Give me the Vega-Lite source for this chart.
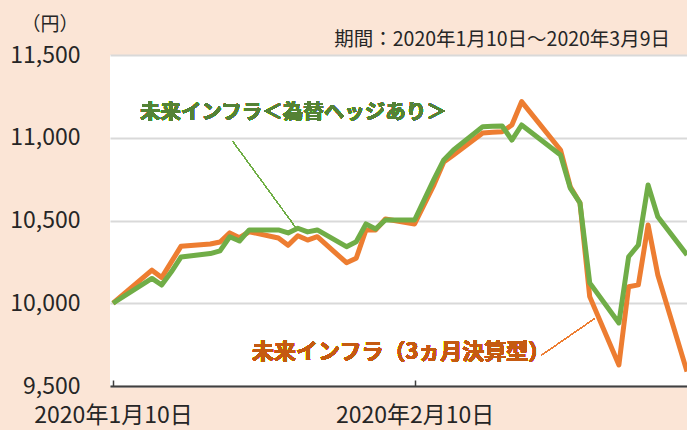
{
  "$schema": "https://vega.github.io/schema/vega-lite/v6.json",
  "width": 577,
  "height": 331,
  "autosize": {"type": "none"},
  "padding": {"left": 110, "top": 55, "right": 0, "bottom": 44},
  "background": "#FBE5D6",
  "config": {
    "view": {"fill": "white", "stroke": null},
    "font": "Noto Sans CJK JP"
  },
  "title": {
    "text": "期間：2020年1月10日～2020年3月9日",
    "anchor": "end",
    "frame": "group",
    "fontSize": 19.5,
    "fontWeight": "normal",
    "color": "#262626",
    "baseline": "alphabetic",
    "offset": 8,
    "dx": -17,
    "dy": 58
  },
  "data": {
    "values": [
      {"date": "2020-01-10", "fund": "未来インフラ＜為替ヘッジあり＞", "price": 10000},
      {"date": "2020-01-14", "fund": "未来インフラ＜為替ヘッジあり＞", "price": 10150},
      {"date": "2020-01-15", "fund": "未来インフラ＜為替ヘッジあり＞", "price": 10110},
      {"date": "2020-01-16", "fund": "未来インフラ＜為替ヘッジあり＞", "price": 10190},
      {"date": "2020-01-17", "fund": "未来インフラ＜為替ヘッジあり＞", "price": 10280},
      {"date": "2020-01-20", "fund": "未来インフラ＜為替ヘッジあり＞", "price": 10300},
      {"date": "2020-01-21", "fund": "未来インフラ＜為替ヘッジあり＞", "price": 10316},
      {"date": "2020-01-22", "fund": "未来インフラ＜為替ヘッジあり＞", "price": 10402},
      {"date": "2020-01-23", "fund": "未来インフラ＜為替ヘッジあり＞", "price": 10376},
      {"date": "2020-01-24", "fund": "未来インフラ＜為替ヘッジあり＞", "price": 10443},
      {"date": "2020-01-27", "fund": "未来インフラ＜為替ヘッジあり＞", "price": 10443},
      {"date": "2020-01-28", "fund": "未来インフラ＜為替ヘッジあり＞", "price": 10425},
      {"date": "2020-01-29", "fund": "未来インフラ＜為替ヘッジあり＞", "price": 10453},
      {"date": "2020-01-30", "fund": "未来インフラ＜為替ヘッジあり＞", "price": 10431},
      {"date": "2020-01-31", "fund": "未来インフラ＜為替ヘッジあり＞", "price": 10443},
      {"date": "2020-02-03", "fund": "未来インフラ＜為替ヘッジあり＞", "price": 10342},
      {"date": "2020-02-04", "fund": "未来インフラ＜為替ヘッジあり＞", "price": 10372},
      {"date": "2020-02-05", "fund": "未来インフラ＜為替ヘッジあり＞", "price": 10479},
      {"date": "2020-02-06", "fund": "未来インフラ＜為替ヘッジあり＞", "price": 10449},
      {"date": "2020-02-07", "fund": "未来インフラ＜為替ヘッジあり＞", "price": 10503},
      {"date": "2020-02-10", "fund": "未来インフラ＜為替ヘッジあり＞", "price": 10503},
      {"date": "2020-02-12", "fund": "未来インフラ＜為替ヘッジあり＞", "price": 10750},
      {"date": "2020-02-13", "fund": "未来インフラ＜為替ヘッジあり＞", "price": 10866},
      {"date": "2020-02-14", "fund": "未来インフラ＜為替ヘッジあり＞", "price": 10926},
      {"date": "2020-02-17", "fund": "未来インフラ＜為替ヘッジあり＞", "price": 11067},
      {"date": "2020-02-18", "fund": "未来インフラ＜為替ヘッジあり＞", "price": 11069},
      {"date": "2020-02-19", "fund": "未来インフラ＜為替ヘッジあり＞", "price": 11071},
      {"date": "2020-02-20", "fund": "未来インフラ＜為替ヘッジあり＞", "price": 10986},
      {"date": "2020-02-21", "fund": "未来インフラ＜為替ヘッジあり＞", "price": 11077},
      {"date": "2020-02-25", "fund": "未来インフラ＜為替ヘッジあり＞", "price": 10896},
      {"date": "2020-02-26", "fund": "未来インフラ＜為替ヘッジあり＞", "price": 10696},
      {"date": "2020-02-27", "fund": "未来インフラ＜為替ヘッジあり＞", "price": 10606},
      {"date": "2020-02-28", "fund": "未来インフラ＜為替ヘッジあり＞", "price": 10123},
      {"date": "2020-03-02", "fund": "未来インフラ＜為替ヘッジあり＞", "price": 9881},
      {"date": "2020-03-03", "fund": "未来インフラ＜為替ヘッジあり＞", "price": 10281},
      {"date": "2020-03-04", "fund": "未来インフラ＜為替ヘッジあり＞", "price": 10352},
      {"date": "2020-03-05", "fund": "未来インフラ＜為替ヘッジあり＞", "price": 10715},
      {"date": "2020-03-06", "fund": "未来インフラ＜為替ヘッジあり＞", "price": 10523},
      {"date": "2020-03-09", "fund": "未来インフラ＜為替ヘッジあり＞", "price": 10292},
      {"date": "2020-01-10", "fund": "未来インフラ（3ヵ月決算型）", "price": 10000},
      {"date": "2020-01-14", "fund": "未来インフラ（3ヵ月決算型）", "price": 10200},
      {"date": "2020-01-15", "fund": "未来インフラ（3ヵ月決算型）", "price": 10155},
      {"date": "2020-01-16", "fund": "未来インフラ（3ヵ月決算型）", "price": 10250},
      {"date": "2020-01-17", "fund": "未来インフラ（3ヵ月決算型）", "price": 10345},
      {"date": "2020-01-20", "fund": "未来インフラ（3ヵ月決算型）", "price": 10358},
      {"date": "2020-01-21", "fund": "未来インフラ（3ヵ月決算型）", "price": 10370},
      {"date": "2020-01-22", "fund": "未来インフラ（3ヵ月決算型）", "price": 10425},
      {"date": "2020-01-23", "fund": "未来インフラ（3ヵ月決算型）", "price": 10396},
      {"date": "2020-01-24", "fund": "未来インフラ（3ヵ月決算型）", "price": 10432},
      {"date": "2020-01-27", "fund": "未来インフラ（3ヵ月決算型）", "price": 10394},
      {"date": "2020-01-28", "fund": "未来インフラ（3ヵ月決算型）", "price": 10350},
      {"date": "2020-01-29", "fund": "未来インフラ（3ヵ月決算型）", "price": 10408},
      {"date": "2020-01-30", "fund": "未来インフラ（3ヵ月決算型）", "price": 10382},
      {"date": "2020-01-31", "fund": "未来インフラ（3ヵ月決算型）", "price": 10402},
      {"date": "2020-02-03", "fund": "未来インフラ（3ヵ月決算型）", "price": 10245},
      {"date": "2020-02-04", "fund": "未来インフラ（3ヵ月決算型）", "price": 10272},
      {"date": "2020-02-05", "fund": "未来インフラ（3ヵ月決算型）", "price": 10443},
      {"date": "2020-02-06", "fund": "未来インフラ（3ヵ月決算型）", "price": 10443},
      {"date": "2020-02-07", "fund": "未来インフラ（3ヵ月決算型）", "price": 10509},
      {"date": "2020-02-10", "fund": "未来インフラ（3ヵ月決算型）", "price": 10479},
      {"date": "2020-02-12", "fund": "未来インフラ（3ヵ月決算型）", "price": 10717},
      {"date": "2020-02-13", "fund": "未来インフラ（3ヵ月決算型）", "price": 10853},
      {"date": "2020-02-14", "fund": "未来インフラ（3ヵ月決算型）", "price": 10896},
      {"date": "2020-02-17", "fund": "未来インフラ（3ヵ月決算型）", "price": 11029},
      {"date": "2020-02-18", "fund": "未来インフラ（3ヵ月決算型）", "price": 11033},
      {"date": "2020-02-19", "fund": "未来インフラ（3ヵ月決算型）", "price": 11036},
      {"date": "2020-02-20", "fund": "未来インフラ（3ヵ月決算型）", "price": 11077},
      {"date": "2020-02-21", "fund": "未来インフラ（3ヵ月決算型）", "price": 11218},
      {"date": "2020-02-25", "fund": "未来インフラ（3ヵ月決算型）", "price": 10926},
      {"date": "2020-02-26", "fund": "未来インフラ（3ヵ月決算型）", "price": 10704},
      {"date": "2020-02-27", "fund": "未来インフラ（3ヵ月決算型）", "price": 10606},
      {"date": "2020-02-28", "fund": "未来インフラ（3ヵ月決算型）", "price": 10040},
      {"date": "2020-03-02", "fund": "未来インフラ（3ヵ月決算型）", "price": 9627},
      {"date": "2020-03-03", "fund": "未来インフラ（3ヵ月決算型）", "price": 10100},
      {"date": "2020-03-04", "fund": "未来インフラ（3ヵ月決算型）", "price": 10111},
      {"date": "2020-03-05", "fund": "未来インフラ（3ヵ月決算型）", "price": 10473},
      {"date": "2020-03-06", "fund": "未来インフラ（3ヵ月決算型）", "price": 10171},
      {"date": "2020-03-09", "fund": "未来インフラ（3ヵ月決算型）", "price": 9587}
    ]
  },
  "encoding": {
    "x": {
      "field": "date",
      "type": "temporal",
      "title": null,
      "scale": {
        "type": "utc",
        "domain": [
          {"year": 2020, "month": 1, "date": 9, "hours": 16, "minutes": 36, "utc": true},
          {"year": 2020, "month": 3, "date": 9, "utc": true}
        ]
      },
      "axis": {
        "values": [
          {"year": 2020, "month": 1, "date": 10, "utc": true},
          {"year": 2020, "month": 2, "date": 10, "utc": true}
        ],
        "labelExpr": "utcFormat(datum.value, '%Y年%-m月%-d日')",
        "labelFontSize": 23,
        "labelColor": "#262626",
        "labelFlush": false,
        "labelOverlap": false,
        "labelPadding": 24,
        "grid": false,
        "domainColor": "#404040",
        "domainWidth": 2,
        "ticks": true,
        "tickSize": -6,
        "tickColor": "#404040",
        "tickWidth": 1.5
      }
    },
    "y": {
      "field": "price",
      "type": "quantitative",
      "scale": {"domain": [9500, 11500], "nice": false, "zero": false},
      "axis": {
        "values": [9500, 10000, 10500, 11000, 11500],
        "format": ",d",
        "labelFontSize": 23,
        "labelColor": "#262626",
        "labelPadding": 30,
        "ticks": false,
        "domain": false,
        "grid": true,
        "gridColor": "#D9D9D9",
        "gridWidth": 2,
        "title": "（円）",
        "titleAngle": 0,
        "titleFontSize": 19,
        "titleFontWeight": "normal",
        "titleColor": "#262626",
        "titleAlign": "left",
        "titleBaseline": "middle",
        "titleX": -89,
        "titleY": -31
      }
    }
  },
  "layer": [
    {
      "transform": [{"filter": "datum.fund === '未来インフラ（3ヵ月決算型）'"}],
      "mark": {"type": "line", "color": "#ED7D31", "strokeWidth": 5, "strokeJoin": "round"}
    },
    {
      "transform": [{"filter": "datum.fund === '未来インフラ＜為替ヘッジあり＞'"}],
      "mark": {"type": "line", "color": "#70AD47", "strokeWidth": 5, "strokeJoin": "round"}
    },
    {
      "mark": {"type": "rule", "color": "#70AD47", "strokeWidth": 1},
      "encoding": {
        "x": {"datum": {"year": 2020, "month": 1, "date": 22, "hours": 8, "utc": true}, "type": "temporal"},
        "x2": {"datum": {"year": 2020, "month": 1, "date": 28, "hours": 17, "utc": true}},
        "y": {"datum": 10976, "type": "quantitative"},
        "y2": {"datum": 10463}
      }
    },
    {
      "mark": {"type": "rule", "color": "#ED7D31", "strokeWidth": 1},
      "encoding": {
        "x": {"datum": {"year": 2020, "month": 2, "date": 23, "hours": 2, "minutes": 10, "utc": true}, "type": "temporal"},
        "x2": {"datum": {"year": 2020, "month": 2, "date": 28, "hours": 13, "utc": true}},
        "y": {"datum": 9688, "type": "quantitative"},
        "y2": {"datum": 9909}
      }
    },
    {
      "mark": {"type": "text", "text": "未来インフラ＜為替ヘッジあり＞", "color": "#548235", "fontSize": 20.5, "fontWeight": "bold", "align": "left", "baseline": "middle"},
      "encoding": {
        "x": {"datum": {"year": 2020, "month": 1, "date": 12, "hours": 18, "minutes": 30, "utc": true}, "type": "temporal"},
        "y": {"datum": 11152, "type": "quantitative"}
      }
    },
    {
      "mark": {"type": "text", "text": "未来インフラ（3ヵ月決算型）", "color": "#C55A11", "fontSize": 22, "fontWeight": "bold", "align": "left", "baseline": "middle"},
      "encoding": {
        "x": {"datum": {"year": 2020, "month": 1, "date": 24, "hours": 7, "utc": true}, "type": "temporal"},
        "y": {"datum": 9703, "type": "quantitative"}
      }
    }
  ]
}
